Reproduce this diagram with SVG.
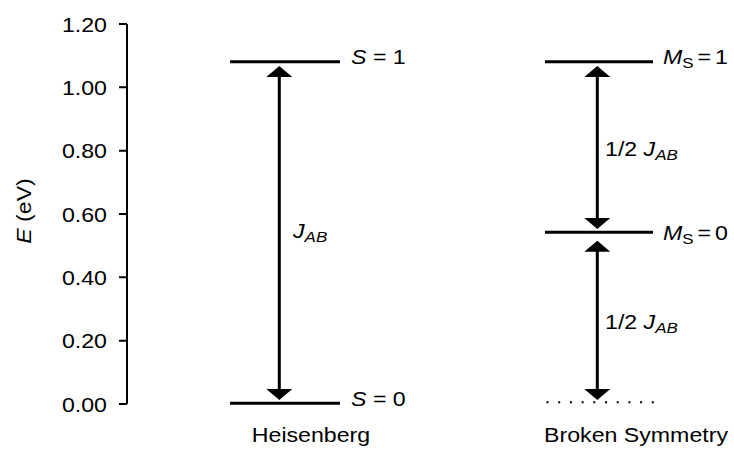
<svg xmlns="http://www.w3.org/2000/svg" width="734" height="451" viewBox="0 0 734 451">
<style>
text{font-family:"Liberation Sans",Arial,sans-serif;font-size:20.5px;fill:#000}
.it{font-style:italic}
.sub{font-size:15px}
.lvl{stroke:#000;stroke-width:3;fill:none}
.ax{stroke:#000;stroke-width:2;fill:none}
.arr{stroke:#000;stroke-width:3;fill:none;marker-start:url(#ah);marker-end:url(#ah)}
</style>
<defs>
<marker id="ah" viewBox="0 0 11 26" refX="5" refY="13" markerWidth="11" markerHeight="26" markerUnits="userSpaceOnUse" orient="auto-start-reverse">
<path d="M0,0 L11,13 L0,26 Z" fill="#000"/>
</marker>
</defs>
<g id="axis">
<path class="ax" d="M127,24 V404 M119,24 H127 M119,87.3 H127 M119,150.7 H127 M119,214 H127 M119,277.3 H127 M119,340.7 H127 M119,404 H127"/>
<g text-anchor="end">
<text transform="translate(107,31.5) scale(1.13,1)">1.20</text>
<text transform="translate(107,94.8) scale(1.13,1)">1.00</text>
<text transform="translate(107,158.2) scale(1.13,1)">0.80</text>
<text transform="translate(107,221.5) scale(1.13,1)">0.60</text>
<text transform="translate(107,284.8) scale(1.13,1)">0.40</text>
<text transform="translate(107,348.2) scale(1.13,1)">0.20</text>
<text transform="translate(107,411.5) scale(1.13,1)">0.00</text>
</g>
<text text-anchor="middle" transform="translate(31,211) rotate(-90) scale(1.13,1)"><tspan class="it">E</tspan> (eV)</text>
</g>
<g id="heisenberg">
<g id="h-s1"><line class="lvl" x1="230" y1="61.7" x2="340" y2="61.7"/><text transform="translate(351,64) scale(1.13,1)"><tspan class="it">S</tspan> = 1</text></g>
<g id="h-s0"><line class="lvl" x1="230" y1="403.3" x2="340" y2="403.3"/><text transform="translate(351,406) scale(1.13,1)"><tspan class="it">S</tspan> = 0</text></g>
<text text-anchor="middle" transform="translate(311,442) scale(1.13,1)">Heisenberg</text>
</g>
<g id="broken">
<g id="b-m1"><line class="lvl" x1="545" y1="61.7" x2="653" y2="61.7"/><text transform="translate(663,64) scale(1.13,1)"><tspan class="it">M</tspan><tspan class="sub" dy="4">S</tspan><tspan dy="-4" dx="3.5">=</tspan><tspan dx="3.5">1</tspan></text></g>
<g id="b-m0"><line class="lvl" x1="545" y1="232.3" x2="653" y2="232.3"/><text transform="translate(663,240) scale(1.13,1)"><tspan class="it">M</tspan><tspan class="sub" dy="4">S</tspan><tspan dy="-4" dx="3.5">=</tspan><tspan dx="3.5">0</tspan></text></g>
<line id="b-ref" x1="546.5" y1="402.3" x2="654" y2="402.3" stroke="#000" stroke-width="2" stroke-dasharray="2 9.7"/>
<text text-anchor="middle" transform="translate(636,442) scale(1.13,1)">Broken Symmetry</text>
</g>
<g id="connectors">
<line class="arr" x1="279.3" y1="72" x2="279.3" y2="394"/>
<line class="arr" x1="597.3" y1="72" x2="597.3" y2="223"/>
<line class="arr" x1="597.3" y1="246.7" x2="597.3" y2="394"/>
<text transform="translate(293,238) scale(1.13,1)"><tspan class="it">J</tspan><tspan class="it sub" dy="4">AB</tspan></text>
<text transform="translate(605,155.5) scale(1.13,1)">1/2 <tspan class="it">J</tspan><tspan class="it sub" dy="4">AB</tspan></text>
<text transform="translate(605,328.5) scale(1.13,1)">1/2 <tspan class="it">J</tspan><tspan class="it sub" dy="4">AB</tspan></text>
</g>
</svg>
